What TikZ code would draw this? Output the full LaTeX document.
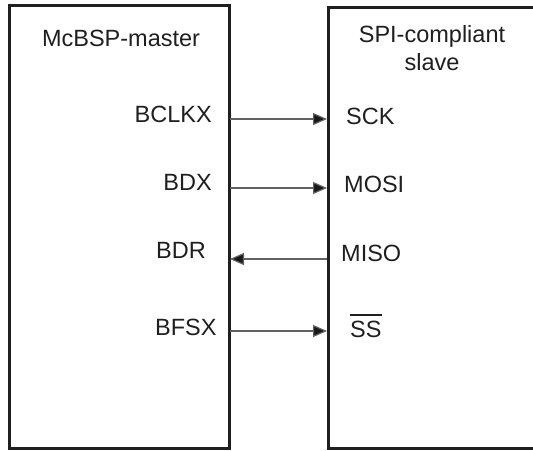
\documentclass[tikz,border=0pt]{standalone}
\usepackage{fontspec}
\setmainfont{Liberation Sans}
\usetikzlibrary{arrows.meta}
\begin{document}
\begin{tikzpicture}[x=1pt,y=-1pt,
  box/.style={draw=black!88, line width=3pt},
  lbl/.style={inner sep=0pt, font=\fontsize{23.5}{28}\selectfont, text=black!88},
  sig/.style={draw=black!62, line width=1.2pt, -{Triangle[length=14pt,width=12pt,fill=black!90]}}]
\useasboundingbox (0,0) rectangle (533,450);
% boxes
\draw[box] (9,5) rectangle (229,448);
\draw[box] (545,7) -- (328,7) -- (328,448) -- (545,448);
\coordinate (lb1) at (230,119); \coordinate (rb1) at (327,119);
\coordinate (lb2) at (230,188); \coordinate (rb2) at (327,188);
\coordinate (lb3) at (230,259); \coordinate (rb3) at (327,259);
\coordinate (lb4) at (230,331); \coordinate (rb4) at (327,331);
% titles
\node[lbl, anchor=base] (mt) at (121,46) {McBSP-master};
\node[lbl, anchor=base] (st1) at (432,42.5) {SPI-compliant};
\node[lbl, anchor=base] (st2) at (432,70) {slave};
% left pins
\node[lbl, anchor=base east] (bclkx) at (212,122) {BCLKX};
\node[lbl, anchor=base east] (bdx) at (212,190) {BDX};
\node[lbl, anchor=base west] (bdr) at (156,258) {BDR};
\node[lbl, anchor=base west] (bfsx) at (155,335) {BFSX};
% right pins
\node[lbl, anchor=base west] (sck) at (346,124) {SCK};
\node[lbl, anchor=base west] (mosi) at (344,192) {MOSI};
\node[lbl, anchor=base west] (miso) at (341,261) {MISO};
\node[lbl, anchor=base west] (ss) at (350,337) {SS};
\draw[black!88, line width=2.6pt] ([yshift=5.5pt]ss.north west) -- ([yshift=5.5pt]ss.north east);
% signals
\draw[sig] (lb1) -- (rb1);
\draw[sig] (lb2) -- (rb2);
\draw[sig] (rb3) -- (lb3);
\draw[sig] (lb4) -- (rb4);
\end{tikzpicture}
\end{document}
